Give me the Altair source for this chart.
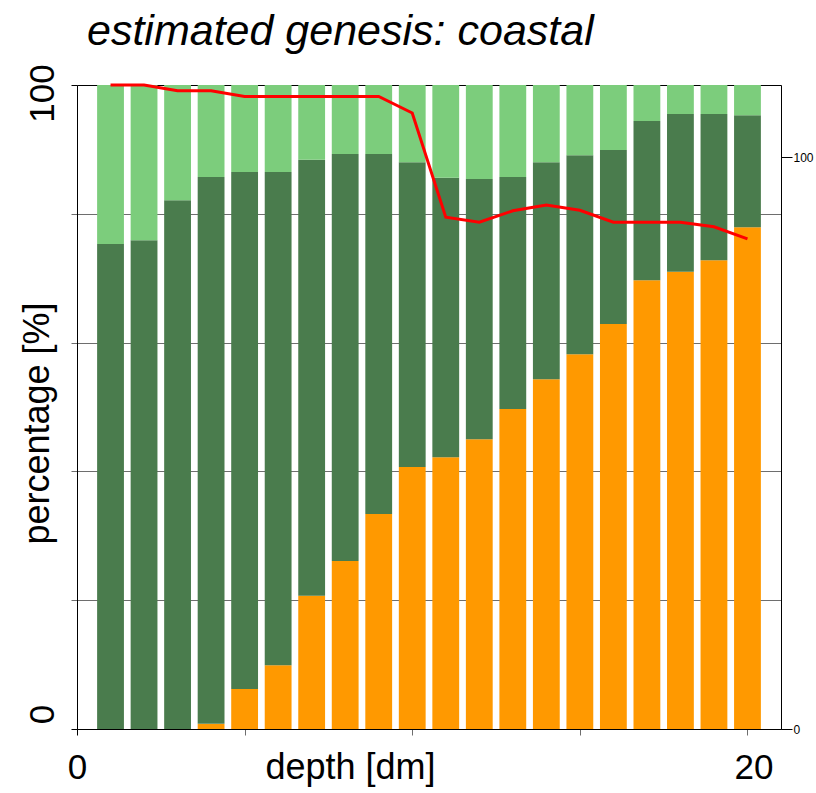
import altair as alt
import pandas as pd

# ---- data ----
depth = list(range(1, 21))
orange_pct = [0, 0, 0, 0.8, 6.2, 9.9, 20.7, 26.1, 33.4, 40.7,
              42.2, 45.0, 49.7, 54.3, 58.2, 62.9, 69.7, 71.0, 72.8, 77.9]
dark_top_pct = [75.3, 75.9, 82.1, 85.7, 86.5, 86.5, 88.4, 89.3, 89.3, 88.0,
                85.6, 85.4, 85.7, 88.0, 89.1, 89.9, 94.4, 95.5, 95.5, 95.3]
red_line = [112.6, 112.6, 111.6, 111.6, 110.6, 110.6, 110.6, 110.6, 110.6, 107.7,
            89.5, 88.6, 90.6, 91.6, 90.7, 88.6, 88.6, 88.6, 87.8, 85.7]
parts = ["orange", "dark", "light"]
part_colors = ["#FF9900", "#4A7C4D", "#7CCD7C"]
x_ticks = [0, 5, 10, 15, 20]
y_ticks = [0, 20, 40, 60, 80, 100]
y2_ticks = [0, 100]

rows = []
for d, o, g in zip(depth, orange_pct, dark_top_pct):
    rows.append({"depth": d, "part": "orange", "lo": 0, "hi": o})
    rows.append({"depth": d, "part": "dark", "lo": o, "hi": g})
    rows.append({"depth": d, "part": "light", "lo": g, "hi": 100})
bars_df = pd.DataFrame(rows)
line_df = pd.DataFrame({"depth": depth, "val": red_line})

FONT = "Liberation Sans"
GRID = "#6E6E6E"

xscale = alt.Scale(domain=[0, 21], nice=False, zero=True)
xaxis = alt.Axis(
    values=x_ticks,
    labelExpr="datum.value == 0 || datum.value == 20 ? datum.label : ''",
    title="depth [dm]", grid=False, domainColor="black",
    tickColor=alt.condition("datum.value == 0", alt.value("black"), alt.value(GRID)),
    tickSize=6, tickWidth=1,
    labelFont=FONT, labelFontSize=35, labelColor="black", labelPadding=15,
    labelFlush=False,
    labelOffset=alt.condition("datum.value == 20", alt.value(6), alt.value(0)),
    titleFont=FONT, titleFontSize=36, titleFontWeight="normal", titleColor="black",
    titleX=273, titleY=49, titleBaseline="alphabetic", titleAlign="center",
)

yaxis = alt.Axis(
    orient="left", values=y_ticks,
    labelExpr="datum.value == 0 || datum.value == 100 ? datum.label : ''",
    grid=True, gridWidth=1,
    gridColor=alt.condition("datum.value == 0 || datum.value == 100", alt.value("black"), alt.value(GRID)),
    tickColor=alt.condition("datum.value == 0 || datum.value == 100", alt.value("black"), alt.value(GRID)),
    tickSize=6, domainColor="black",
    labelFont=FONT, labelFontSize=35, labelColor="black",
    labelAngle=270, labelAlign="center", labelBaseline="alphabetic", labelPadding=18,
    labelFlush=False,
    labelOffset=alt.condition("datum.value == 0", alt.value(-15), alt.value(8)),
    title="percentage [%]", titleFont=FONT, titleFontSize=36, titleFontWeight="normal",
    titleColor="black", titleAngle=270, titleX=-29, titleY=338,
    titleBaseline="alphabetic", titleAlign="center",
)

bars = alt.Chart(bars_df).transform_calculate(
    x0="datum.depth - 0.4", x1="datum.depth + 0.4"
).mark_bar(strokeWidth=0).encode(
    x=alt.X("x0:Q", scale=xscale, axis=xaxis),
    x2="x1:Q",
    y=alt.Y("lo:Q", scale=alt.Scale(domain=[0, 100], nice=False), axis=yaxis),
    y2="hi:Q",
    color=alt.Color("part:N", scale=alt.Scale(domain=parts, range=part_colors), legend=None),
)

y2axis = alt.Axis(
    orient="right", values=y2_ticks, grid=False, title=None,
    tickSize=11, tickColor="black", domainColor="black",
    labelFont=FONT, labelFontSize=12, labelColor="black", labelPadding=1,
    labelBaseline="middle", labelFlush=False,
)

line = alt.Chart(line_df).mark_line(color="#FF0000", strokeWidth=3).encode(
    x=alt.X("depth:Q", scale=xscale),
    y=alt.Y("val:Q", scale=alt.Scale(domain=[0, 112.6], nice=False), axis=y2axis),
)

chart = alt.layer(bars, line).resolve_scale(y="independent").properties(
    width=704, height=644,
    padding={"left": 77, "top": 85, "right": 35, "bottom": 64},
    autosize=alt.AutoSizeParams(type="none"),
    title=alt.Title("estimated genesis: coastal", anchor="start", frame="group",
                    font=FONT, fontSize=43, fontStyle="italic", fontWeight="normal",
                    color="black", baseline="alphabetic", offset=18, dx=10, dy=42),
).configure_view(stroke="black", strokeWidth=1).configure(background="white")

chart.save("out.html", embed_options={"renderer": "svg", "actions": False})
